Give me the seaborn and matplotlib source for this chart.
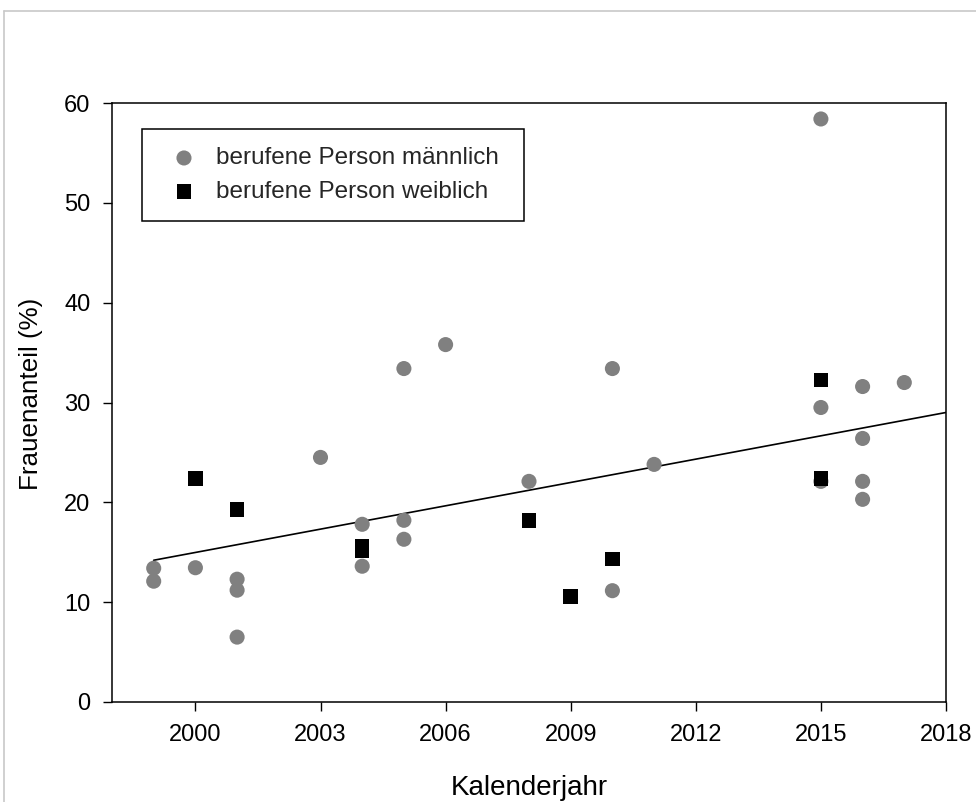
import matplotlib
matplotlib.use("Agg")
import matplotlib.pyplot as plt
from matplotlib.lines import Line2D
import seaborn as sns
import pandas as pd

# ---- data ----
male_years = [1999, 1999, 2000, 2001, 2001, 2001, 2003, 2004, 2004, 2005, 2005, 2005,
              2006, 2008, 2010, 2010, 2011, 2015, 2015, 2015, 2016, 2016, 2016, 2016, 2017]
male_share = [13.4, 12.1, 13.45, 12.3, 11.2, 6.5, 24.5, 17.8, 13.6, 33.4, 18.2, 16.3,
              35.8, 22.1, 33.4, 11.15, 23.8, 58.4, 29.5, 22.1, 31.6, 26.4, 22.1, 20.3, 32.0]
female_years = [2000, 2001, 2004, 2004, 2008, 2009, 2010, 2015, 2015]
female_share = [22.4, 19.3, 15.6, 15.1, 18.2, 10.55, 14.3, 32.25, 22.4]
trend_years = [1999, 2018]
trend_share = [14.2, 29.0]

label_male = "berufene Person männlich"
label_female = "berufene Person weiblich"
xticks = [2000, 2003, 2006, 2009, 2012, 2015, 2018]
yticks = [0, 10, 20, 30, 40, 50, 60]

df_m = pd.DataFrame({"Jahr": male_years, "Anteil": male_share})
df_f = pd.DataFrame({"Jahr": female_years, "Anteil": female_share})
df_t = pd.DataFrame({"Jahr": trend_years, "Anteil": trend_share})

sns.set_theme(style="white")
plt.rcParams["font.family"] = ["Liberation Sans", "DejaVu Sans"]

W, H = 976, 802
fig = plt.figure(figsize=(W / 100, H / 100), dpi=100)
ax = fig.add_axes([112 / W, (H - 702) / H, (946 - 112) / W, (702 - 103) / H])

sns.lineplot(data=df_t, x="Jahr", y="Anteil", ax=ax, color="black", linewidth=1.2,
             zorder=1, legend=False)
sns.scatterplot(data=df_m, x="Jahr", y="Anteil", ax=ax, color="#808080", marker="o",
                s=118, edgecolor="none", linewidth=0, label=label_male, zorder=2)
sns.scatterplot(data=df_f, x="Jahr", y="Anteil", ax=ax, color="black", marker="s",
                s=108, edgecolor="none", linewidth=0, label=label_female, zorder=3)

ax.set_xlim(1998, 2018)
ax.set_ylim(0, 60)
ax.set_xticks(xticks)
ax.set_yticks(yticks)
ax.tick_params(axis="both", which="both", direction="out", length=6.5, width=1.0,
               color="black", labelsize=17, labelcolor="black", pad=9,
               bottom=True, left=True, top=False, right=False)
for sp in ax.spines.values():
    sp.set_color("black")
    sp.set_linewidth(1.1)

ax.set_xlabel("Kalenderjahr", fontsize=20, color="black", labelpad=21)
ax.set_ylabel("Frauenanteil (%)", fontsize=18.7, color="black")
ax.yaxis.set_label_coords(-0.0827, 0.515)

leg = ax.legend(loc="upper left", bbox_to_anchor=(0.0356, 0.5, 0.4588, 0.456),
                mode="expand", borderaxespad=0,
                fontsize=17.5, frameon=True, fancybox=False, edgecolor="black",
                framealpha=1, borderpad=0.74, handlelength=2.0, handletextpad=0.3,
                labelspacing=0.48, markerscale=1.0)
leg.get_frame().set_linewidth(1.1)

# light grey frame of the screenshot
fig.add_artist(Line2D([4 / W, 1], [1 - 11 / H, 1 - 11 / H], color="#c8c8c8", linewidth=1.2))
fig.add_artist(Line2D([4 / W, 4 / W], [0, 1 - 11 / H], color="#c8c8c8", linewidth=1.2))

fig.savefig("out.png", dpi=100, facecolor="white")
